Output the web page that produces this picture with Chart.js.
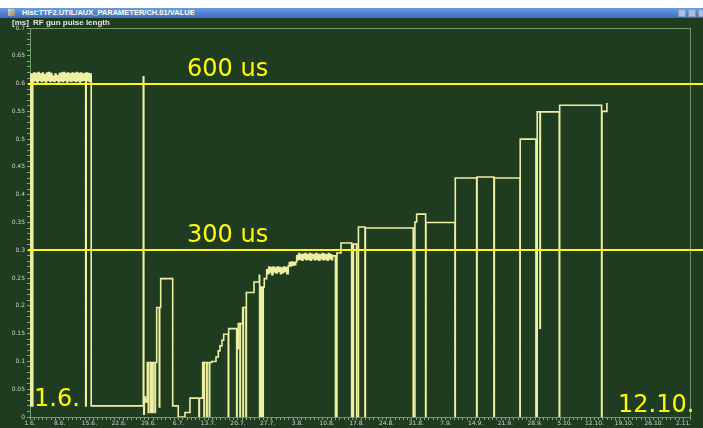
<!DOCTYPE html>
<html>
<head>
<meta charset="utf-8">
<title>Hist:TTF2.UTIL/AUX_PARAMETER/CH.01/VALUE</title>
<script src="https://cdn.jsdelivr.net/npm/chart.js@4.4.1/dist/chart.umd.min.js"></script>
<style>
  html, body { margin: 0; padding: 0; width: 703px; height: 428px; overflow: hidden; background: #ffffff; }
  #titlebar { position: absolute; left: 0; top: 8px; width: 703px; height: 10px; background: linear-gradient(#6c9be0, #3a6cc4); }
  #titlebar .icon { position: absolute; left: 8px; top: 1px; width: 7px; height: 7px; background: linear-gradient(135deg, #d9d2b8, #8d8a7a); }
  #titlebar .txt { position: absolute; left: 22px; top: 0; font: bold 7.5px "Liberation Sans", sans-serif; line-height: 10px; color: #ffffff; white-space: nowrap; }
  #titlebar .btn { position: absolute; top: 1px; width: 8px; height: 8px; background: #a9bddc; border: 1px solid #7f9bc8; box-sizing: border-box; }
  #plot { position: absolute; left: 0; top: 18px; width: 703px; height: 410px; background: #1f3b20; }
</style>
</head>
<body>
<div id="titlebar">
  <div class="icon"></div>
  <div class="txt">Hist:TTF2.UTIL/AUX_PARAMETER/CH.01/VALUE</div>
  <div class="btn" style="left:678px"></div>
  <div class="btn" style="left:688px"></div>
  <div class="btn" style="left:698px"></div>
</div>
<div id="plot"><canvas id="chart" width="703" height="410"></canvas></div>
<script>
// pulse length history: [day since 1.6., value in ms], value holds until the next entry
var pulseSteps = [
  [0.1,0.02],[0.2,0.617],[0.55,0.02],[0.65,0.604],
  [0.9,0.619],[1.15,0.605],[1.4,0.618],[1.65,0.603],[1.9,0.62],[2.15,0.606],[2.4,0.617],[2.65,0.604],
  [2.9,0.619],[3.15,0.605],[3.4,0.616],[3.65,0.603],[3.9,0.619],[4.15,0.606],[4.4,0.62],[4.65,0.604],
  [4.9,0.618],[5.15,0.605],[5.4,0.613],[5.65,0.604],[5.9,0.617],[6.15,0.606],[6.4,0.614],[6.65,0.603],
  [6.9,0.618],[7.15,0.605],[7.4,0.619],[7.65,0.604],[7.9,0.62],[8.15,0.606],[8.4,0.618],[8.65,0.603],
  [8.9,0.619],[9.15,0.605],[9.4,0.617],[9.65,0.604],[9.9,0.619],[10.15,0.606],[10.4,0.618],[10.65,0.604],
  [10.9,0.62],[11.15,0.605],[11.4,0.618],[11.65,0.603],[11.9,0.619],[12.15,0.605],[12.4,0.617],[12.65,0.606],
  [12.9,0.618],[13.12,0.02],[13.24,0.619],[13.5,0.605],[13.75,0.618],[14.0,0.604],[14.2,0.617],[14.42,0.02],
  [26.69,0.612],[26.81,0.005],[26.93,0.036],[27.21,0.027],[27.63,0.098],
  [27.87,0.008],[27.97,0.098],[28.43,0.008],[28.53,0.098],[28.9,0.008],[29.0,0.098],[29.45,0.008],[29.55,0.098],
  [29.85,0.197],[30.46,0.018],[30.56,0.197],[30.79,0.249],[33.62,0.02],[34.93,0],[36.51,0.008],
  [37.69,0.034],[39.81,0],[39.91,0.034],
  [40.68,0.098],[40.99,0],[41.09,0.098],[41.63,0],[41.73,0.098],[42.24,0],[42.34,0.098],
  [42.8,0.1],[43.82,0.108],[44.36,0.119],[44.76,0.128],[45.23,0.138],[45.63,0.149],[46.71,0],[46.81,0.159],
  [48.69,0],[48.79,0.123],[49.07,0.168],[49.47,0],[49.57,0.168],[50.11,0.197],[50.18,0],[50.28,0.197],
  [50.88,0],[50.98,0.224],[52.77,0.243],[54.02,0.255],[54.1,0],[54.18,0.234],[54.53,0],[54.6,0.234],
  [54.89,0],[54.96,0.234],[55.19,0.249],
  [55.76,0.265],[56.0,0.258],[56.25,0.27],[56.5,0.26],[56.75,0.269],[57.0,0.256],[57.25,0.27],[57.5,0.261],
  [57.75,0.268],[58.0,0.259],[58.25,0.27],[58.5,0.262],[58.75,0.269],[59.0,0.258],[59.25,0.268],[59.5,0.26],
  [59.75,0.27],[60.0,0.262],[60.25,0.269],[60.5,0.258],
  [60.85,0.272],[61.1,0.278],[61.35,0.272],[61.6,0.279],[61.85,0.273],[62.1,0.278],[62.35,0.274],[62.6,0.279],
  [62.83,0.29],[63.05,0.283],[63.3,0.294],[63.55,0.284],[63.8,0.292],[64.05,0.282],[64.3,0.293],[64.55,0.285],
  [64.8,0.294],[65.05,0.283],[65.3,0.292],[65.55,0.284],[65.8,0.294],[66.05,0.282],[66.3,0.293],[66.55,0.285],
  [66.8,0.292],[67.05,0.283],[67.3,0.294],[67.55,0.284],[67.8,0.293],[68.05,0.282],[68.3,0.292],[68.55,0.285],
  [68.8,0.294],[69.05,0.283],[69.3,0.293],[69.55,0.284],[69.8,0.292],[70.05,0.282],[70.3,0.294],[70.55,0.285],
  [70.8,0.292],[71.05,0.283],[71.3,0.29],
  [71.97,0],[72.32,0.295],[73.26,0.313],[75.78,0],[75.95,0.311],[76.05,0],[76.2,0.311],[76.96,0],
  [77.38,0.342],[78.92,0],[79.02,0.34],[90.29,0],[90.69,0.351],[91.09,0.365],[93.21,0],[93.3,0.35],
  [100.12,0],[100.2,0.43],[105.23,0],[105.33,0.432],[109.3,0],[109.4,0.43],
  [115.43,0],[115.5,0.5],[119.2,0],[119.5,0.549],[120.14,0.16],[120.24,0.549],
  [124.69,0],[124.79,0.561],[134.67,0],[134.77,0.55],[135.92,0.565]
];

var refLevels = [0.6, 0.3];
var refLabels = ['600 us', '300 us'];
var spanLabels = ['1.6.', '12.10.'];
var weekLabels = ['1.6.','8.6.','15.6.','22.6.','29.6.','6.7.','13.7.','20.7.','27.7.','3.8.','10.8.','17.8.',
  '24.8.','31.8.','7.9.','14.9.','21.9.','28.9.','5.10.','12.10.','19.10.','26.10.','2.11.'];

var axisColor = '#6e9a6b';
var labelColor = '#cdd5c9';

// frame, yellow reference levels and the big annotations
var overlay = {
  id: 'overlay',
  beforeDatasetsDraw: function(chart) {
    var ctx = chart.ctx, a = chart.chartArea;
    ctx.save();
    ctx.strokeStyle = axisColor;
    ctx.lineWidth = 1;
    ctx.strokeRect(a.left + 0.5, a.top + 0.5, a.right - a.left, a.bottom - a.top);
    ctx.restore();
  },
  afterDatasetsDraw: function(chart) {
    var ctx = chart.ctx, a = chart.chartArea;
    var x = chart.scales.x, y = chart.scales.y;
    ctx.save();
    ctx.strokeStyle = '#ffff00';
    ctx.fillStyle = '#ffff00';
    ctx.lineWidth = 2;
    ctx.font = '24px "DejaVu Sans"';
    refLevels.forEach(function(lv, i) {
      var py = Math.round(y.getPixelForValue(lv));
      ctx.beginPath();
      ctx.moveTo(a.left - 2, py);
      ctx.lineTo(chart.width, py);
      ctx.stroke();
      ctx.fillText(refLabels[i], x.getPixelForValue(37), py - 8);
    });
    ctx.fillText(spanLabels[0], a.left + 4, a.bottom - 11);
    ctx.fillText(spanLabels[1], a.right - 72, a.bottom - 5);

    ctx.font = 'bold 8px "Liberation Sans"';
    ctx.fillStyle = '#e3e8df';
    ctx.fillText('[ms]', 12, 7);
    ctx.fillText('RF gun pulse length', 33, 7);
    ctx.restore();
  }
};

var ctx = document.getElementById('chart');

var pulseChart = new Chart(ctx, {
  type: 'line',
  data: {
    datasets: [{
      data: pulseSteps.map(function(p) { return { x: p[0], y: p[1] }; }),
      stepped: true,
      borderColor: '#efefa2',
      borderWidth: 1.6,
      pointRadius: 0,
      fill: false
    }]
  },
  options: {
    responsive: false,
    animation: false,
    devicePixelRatio: 1,
    layout: { padding: { top: 10, right: 13, left: 0, bottom: 0 } },
    plugins: { legend: { display: false }, tooltip: { enabled: false } },
    scales: {
      x: {
        type: 'linear',
        min: 0,
        max: 155.5,
        afterFit: function(s) { s.height = 11; },
        border: { color: axisColor },
        grid: { drawOnChartArea: false, tickLength: 3, color: '#86a883' },
        ticks: {
          stepSize: 1,
          maxTicksLimit: 1000,
          autoSkip: false,
          maxRotation: 0,
          padding: 0,
          color: labelColor,
          font: { size: 6, family: 'DejaVu Sans' },
          callback: function(v) { return v % 7 === 0 ? weekLabels[v / 7] : ''; }
        }
      },
      y: {
        min: 0,
        max: 0.7,
        afterFit: function(s) { s.width = 30; },
        border: { color: axisColor },
        grid: { drawOnChartArea: false, tickLength: 3, color: '#86a883' },
        ticks: {
          stepSize: 0.01,
          maxTicksLimit: 1000,
          autoSkip: false,
          padding: 2,
          color: labelColor,
          font: { size: 6, family: 'DejaVu Sans' },
          callback: function(v) {
            var c = Math.round(v * 100);
            return c % 5 === 0 ? String(c / 100) : '';
          }
        }
      }
    }
  },
  plugins: [overlay]
});
</script>
</body>
</html>
